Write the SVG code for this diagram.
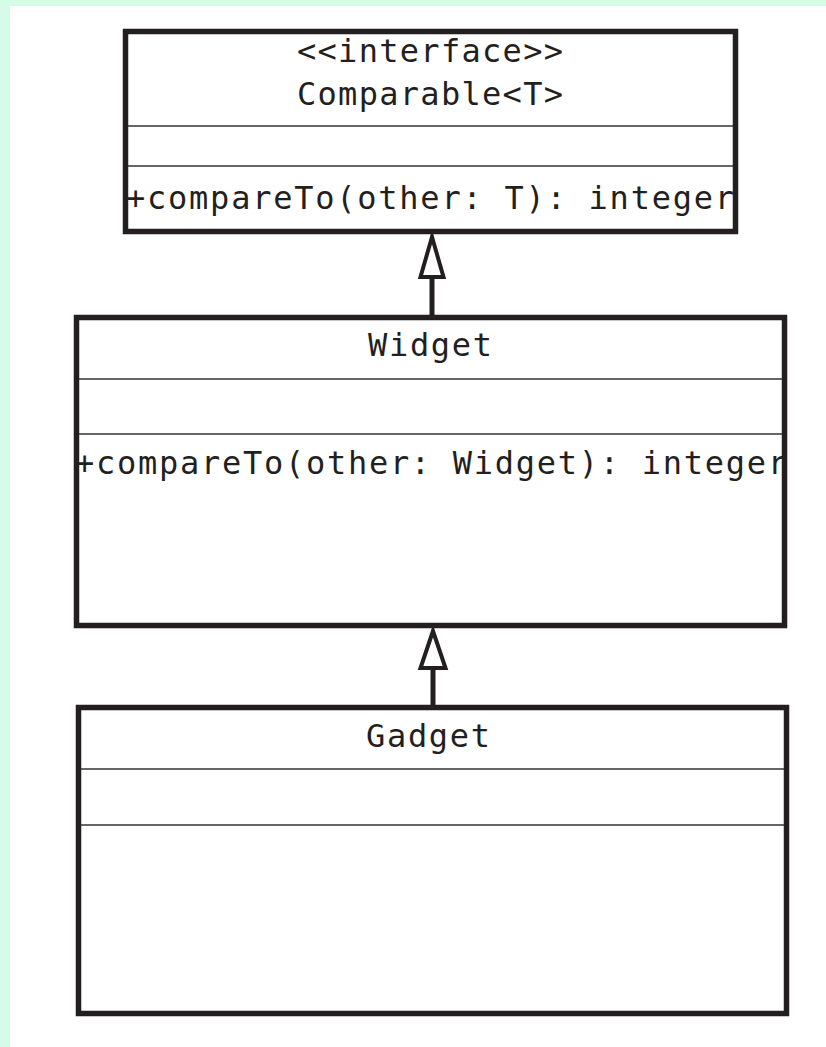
<svg xmlns="http://www.w3.org/2000/svg" width="826" height="1047" viewBox="0 0 826 1047">
  <style>
    .frame { fill: #ffffff; stroke: #231f20; stroke-width: 5.5; }
    .divider { stroke: #333333; stroke-width: 1.6; fill: none; }
    .label { font-family: "DejaVu Sans Mono", "Liberation Mono", monospace; font-size: 32px; fill: #231f20; }
    .mid { text-anchor: middle; }
    .link { stroke: #231f20; stroke-width: 5; fill: none; }
    .head { fill: #ffffff; stroke: #231f20; stroke-width: 4; stroke-linejoin: miter; }
  </style>

  <!-- page background with tinted margin -->
  <rect x="0" y="0" width="826" height="1047" fill="#d4fce6"/>
  <rect x="10" y="6" width="816" height="1041" fill="#ffffff"/>

  <!-- interface Comparable<T> -->
  <g id="comparable">
    <rect class="frame" x="125.5" y="31.5" width="610" height="200"/>
    <text class="label mid" x="430" y="62" textLength="266" lengthAdjust="spacing">&lt;&lt;interface&gt;&gt;</text>
    <text class="label mid" x="430" y="105" textLength="266" lengthAdjust="spacing">Comparable&lt;T&gt;</text>
    <line class="divider" x1="128" y1="126" x2="733" y2="126"/>
    <line class="divider" x1="128" y1="166" x2="733" y2="166"/>
    <text class="label" x="126" y="209" textLength="608" lengthAdjust="spacing">+compareTo(other: T): integer</text>
  </g>

  <!-- class Widget -->
  <g id="widget">
    <rect class="frame" x="76.5" y="317.5" width="708" height="308"/>
    <text class="label mid" x="430" y="356" textLength="124" lengthAdjust="spacing">Widget</text>
    <line class="divider" x1="79" y1="379" x2="782" y2="379"/>
    <line class="divider" x1="79" y1="434" x2="782" y2="434"/>
    <text class="label" x="75" y="474" textLength="712" lengthAdjust="spacing">+compareTo(other: Widget): integer</text>
  </g>

  <!-- class Gadget -->
  <g id="gadget">
    <rect class="frame" x="78.5" y="707.5" width="708" height="306"/>
    <text class="label mid" x="428" y="747" textLength="124" lengthAdjust="spacing">Gadget</text>
    <line class="divider" x1="81" y1="769" x2="784" y2="769"/>
    <line class="divider" x1="81" y1="825" x2="784" y2="825"/>
  </g>

  <!-- generalization arrows -->
  <g id="connectors">
    <line class="link" x1="432" y1="315" x2="432" y2="276"/>
    <polygon class="head" points="432,237 420.5,277 443.5,277"/>
    <line class="link" x1="433" y1="705" x2="433" y2="667"/>
    <polygon class="head" points="433,631 420.5,668 445.5,668"/>
  </g>
</svg>
